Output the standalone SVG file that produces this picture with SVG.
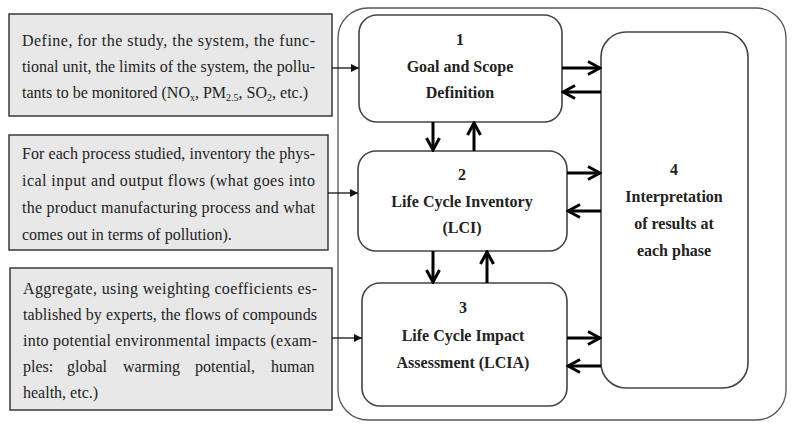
<svg xmlns="http://www.w3.org/2000/svg" width="797" height="432" viewBox="0 0 797 432">
  <defs>
    <style>
      .note { fill: #e8e8e8; stroke: #3a3a3a; stroke-width: 1.5; }
      .phase { fill: #ffffff; stroke: #444444; stroke-width: 1.6; }
      .frame { fill: #ffffff; stroke: #555555; stroke-width: 1.3; }
      .body { font-family: "Liberation Serif", "Times New Roman", serif; font-size: 16px; fill: #222222; }
      .title { font-family: "Liberation Serif", "Times New Roman", serif; font-size: 16px; font-weight: bold; fill: #222222; text-anchor: middle; }
      .thin { stroke: #111111; stroke-width: 1.3; fill: none; marker-end: url(#headThin); }
      .thick { stroke: #000000; stroke-width: 3; fill: none; marker-end: url(#headThick); }
      .sub { font-size: 10px; }
    </style>
    <marker id="headThin" viewBox="0 0 10 10" refX="10" refY="5" markerWidth="8" markerHeight="8" markerUnits="userSpaceOnUse" orient="auto">
      <path d="M0,0 L10,5 L0,10 Z" fill="#111111"/>
    </marker>
    <marker id="headThick" viewBox="0 0 16 16" refX="14" refY="8" markerWidth="16" markerHeight="16" markerUnits="userSpaceOnUse" orient="auto">
      <path d="M2,1.5 L14,8 L2,14.5" fill="none" stroke="#000000" stroke-width="3" stroke-linejoin="miter"/>
    </marker>
  </defs>

  <rect width="797" height="432" fill="#ffffff"/>

  <!-- surrounding frame of the four phases -->
  <rect id="frame" class="frame" x="338" y="8" width="448" height="412" rx="30" ry="30"/>

  <!-- explanatory notes on the left -->
  <g id="note-goal">
    <rect class="note" x="9" y="14" width="323" height="102"/>
    <text class="body" x="22" y="46" textLength="293" lengthAdjust="spacing">Define, for the study, the system, the func-</text>
    <text class="body" x="22" y="72" textLength="293" lengthAdjust="spacing">tional unit, the limits of the system, the pollu-</text>
    <text class="body" x="22" y="98">tants to be monitored (NO<tspan class="sub" dy="3">x</tspan><tspan dy="-3">, PM</tspan><tspan class="sub" dy="3">2.5</tspan><tspan dy="-3">, SO</tspan><tspan class="sub" dy="3">2</tspan><tspan dy="-3">, etc.)</tspan></text>
  </g>

  <g id="note-inventory">
    <rect class="note" x="9" y="135" width="319" height="115"/>
    <text class="body" x="22" y="159" textLength="293" lengthAdjust="spacing">For each process studied, inventory the phys-</text>
    <text class="body" x="22" y="186" textLength="293" lengthAdjust="spacing">ical input and output flows (what goes into</text>
    <text class="body" x="22" y="213" textLength="293" lengthAdjust="spacing">the product manufacturing process and what</text>
    <text class="body" x="22" y="240">comes out in terms of pollution).</text>
  </g>

  <g id="note-impact">
    <rect class="note" x="10" y="268" width="322" height="142"/>
    <text class="body" x="23" y="294" textLength="294" lengthAdjust="spacing">Aggregate, using weighting coefficients es-</text>
    <text class="body" x="23" y="320" textLength="294" lengthAdjust="spacing">tablished by experts, the flows of compounds</text>
    <text class="body" x="23" y="346" textLength="294" lengthAdjust="spacing">into potential environmental impacts (exam-</text>
    <text class="body" y="372"><tspan x="23">ples:</tspan><tspan x="67">global</tspan><tspan x="123">warming</tspan><tspan x="195">potential,</tspan><tspan x="271">human</tspan></text>
    <text class="body" x="23" y="398">health, etc.)</text>
  </g>

  <!-- phases -->
  <g id="phase-1">
    <rect class="phase" x="359" y="15" width="203" height="107" rx="18" ry="18"/>
    <text class="title" x="460" y="45">1</text>
    <text class="title" x="460" y="72">Goal and Scope</text>
    <text class="title" x="460" y="98">Definition</text>
  </g>

  <g id="phase-2">
    <rect class="phase" x="358" y="151" width="209" height="100" rx="18" ry="18"/>
    <text class="title" x="462" y="180">2</text>
    <text class="title" x="462" y="207">Life Cycle Inventory</text>
    <text class="title" x="462" y="233">(LCI)</text>
  </g>

  <g id="phase-3">
    <rect class="phase" x="362" y="283" width="205" height="123" rx="18" ry="18"/>
    <text class="title" x="463" y="313">3</text>
    <text class="title" x="463" y="341">Life Cycle Impact</text>
    <text class="title" x="463" y="368">Assessment (LCIA)</text>
  </g>

  <g id="phase-4">
    <rect class="phase" x="601" y="32" width="147" height="356" rx="25" ry="25"/>
    <text class="title" x="674" y="175">4</text>
    <text class="title" x="674" y="202">Interpretation</text>
    <text class="title" x="674" y="229">of results at</text>
    <text class="title" x="674" y="256">each phase</text>
  </g>

  <!-- connectors -->
  <g id="connectors">
    <line class="thin" x1="332" y1="68" x2="359" y2="68"/>
    <line class="thin" x1="328" y1="193" x2="358" y2="193"/>
    <line class="thin" x1="332" y1="338" x2="362" y2="338"/>

    <line class="thick" x1="562" y1="68" x2="600" y2="68"/>
    <line class="thick" x1="601" y1="92" x2="563" y2="92"/>
    <line class="thick" x1="567" y1="173" x2="600" y2="173"/>
    <line class="thick" x1="601" y1="211" x2="568" y2="211"/>
    <line class="thick" x1="567" y1="338" x2="600" y2="338"/>
    <line class="thick" x1="601" y1="366" x2="568" y2="366"/>

    <line class="thick" x1="433" y1="122" x2="433" y2="150"/>
    <line class="thick" x1="474" y1="151" x2="474" y2="123"/>
    <line class="thick" x1="433" y1="251" x2="433" y2="282"/>
    <line class="thick" x1="487" y1="283" x2="487" y2="252"/>
  </g>
</svg>
